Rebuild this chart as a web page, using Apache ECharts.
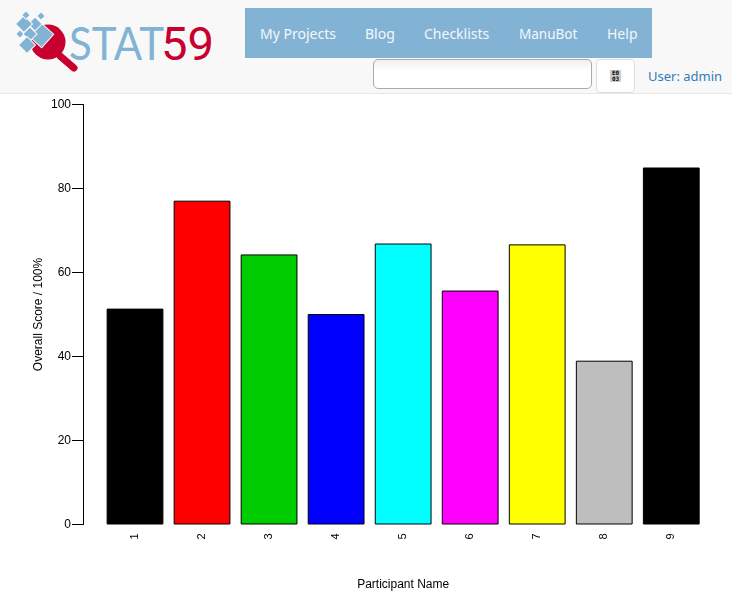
<!DOCTYPE html>
<html>
<head>
<meta charset="utf-8">
<title>Participant scores</title>
<script src="https://cdn.jsdelivr.net/npm/echarts@6/dist/echarts.min.js"></script>
<style>
  html, body { margin: 0; padding: 0; background: #fff; overflow: hidden; }
  #page { position: relative; width: 732px; height: 595px; }
  #head { position: absolute; left: 0; top: 0; width: 732px; height: 93px; background: #f8f8f8; border-bottom: 1px solid #e7e7e7; font-family: "Noto Sans", sans-serif; }
  #logo { position: absolute; left: 0; top: 0; }
  #nav { position: absolute; left: 245px; top: 8px; width: 407px; height: 50px; background: #82b3d5; }
  #nav span { position: absolute; top: 16px; font-size: 14px; line-height: 20px; color: #f4f7fa; }
  #search { position: absolute; left: 373px; top: 59px; width: 217px; height: 28px; border: 1px solid #aaa; border-radius: 5px; background: linear-gradient(#f0f0f0, #fff 40%); }
  #btn { position: absolute; left: 596px; top: 59px; width: 37px; height: 32px; border: 1px solid #ddd; border-radius: 4px; background: #fff; }
  #glyph { position: absolute; left: 13px; top: 10px; width: 11px; height: 12px; background: #ccc; color: #000; font: bold 6px/6px "DejaVu Sans Mono", monospace; text-align: center; opacity: 0.99; }
  #user { position: absolute; left: 648px; top: 66px; font-size: 13px; line-height: 20px; color: #337ab7; }
  #chart { position: absolute; left: 0; top: 0; width: 732px; height: 595px; }
</style>
</head>
<body>
<div id="page">
  <div id="chart"></div>
  <div id="head">
    <svg id="logo" width="240" height="90">
      <g fill="#c8002f">
        <circle cx="48" cy="42" r="17.5"></circle>
        <line x1="60" y1="56" x2="74" y2="68" stroke="#c8002f" stroke-width="7" stroke-linecap="round"></line>
      </g>
      <g fill="#82b3d5" stroke="#f8f8f8" stroke-width="1">
        <rect x="-9" y="-9" width="18" height="18" transform="translate(41 35) rotate(42)"></rect>
        <rect x="-5" y="-5" width="10" height="10" transform="translate(35 24) rotate(45)"></rect>
        <rect x="-6" y="-6" width="12" height="12" transform="translate(24 24) rotate(45)"></rect>
        <rect x="-3" y="-3" width="6" height="6" transform="translate(26 15) rotate(45)"></rect>
        <rect x="-3" y="-3" width="6" height="6" transform="translate(41 16) rotate(45)"></rect>
        <rect x="-3" y="-3" width="6" height="6" transform="translate(20 34) rotate(45)"></rect>
        <rect x="-5" y="-5" width="10" height="10" transform="translate(30 34) rotate(45)"></rect>
        <rect x="-6" y="-6" width="12" height="12" transform="translate(27 45) rotate(45)"></rect>
      </g>
      <text x="69" y="60" font-family="Lato" font-size="47" fill="#82b3d5" textLength="95" lengthAdjust="spacingAndGlyphs">STAT</text>
      <text x="161" y="60" font-family="Roboto" font-size="47" fill="#c8002f" textLength="53" lengthAdjust="spacingAndGlyphs">59</text>
    </svg>
    <div id="nav">
      <span style="left:15px">My Projects</span>
      <span style="left:120px">Blog</span>
      <span style="left:179px">Checklists</span>
      <span style="left:274px;font-size:13.5px">ManuBot</span>
      <span style="left:362px">Help</span>
    </div>
    <div id="search"></div>
    <div id="btn"><div id="glyph">E0<br>03</div></div>
    <div id="user">User: admin</div>
  </div>
</div>
<script>
var participants = ['1', '2', '3', '4', '5', '6', '7', '8', '9'];
var scores = [51.4, 77.1, 64.3, 50.1, 66.9, 55.7, 66.7, 39, 85];
var barColors = ['#000000', '#ff0000', '#00cd00', '#0000ff', '#00ffff', '#ff00ff', '#ffff00', '#bebebe', '#000000'];
var yTicks = [0, 20, 40, 60, 80, 100];

var myChart = echarts.init(document.getElementById('chart'));
var textFont = '"Liberation Sans", Arial, sans-serif';

myChart.setOption({
  animation: false,
  // outerBounds off, otherwise echarts 6 shrinks the grid to fit the labels
  grid: { left: 101.5, right: 27.2, top: 104.5, bottom: 70.5, outerBoundsMode: 'none' },
  xAxis: {
    type: 'category',
    data: participants,
    name: 'Participant Name',
    nameLocation: 'middle',
    nameGap: 54,
    nameTextStyle: { fontFamily: textFont, fontSize: 12, color: '#000' },
    axisLine: { show: false },
    axisTick: { show: false },
    axisLabel: { rotate: 90, margin: 9, fontFamily: textFont, fontSize: 11, color: '#000' }
  },
  yAxis: {
    type: 'value',
    min: 0,
    max: 100,
    interval: yTicks[1] - yTicks[0],
    offset: 18.5,
    name: 'Overall Score / 100%',
    nameLocation: 'middle',
    nameGap: 38,
    nameMoveOverlap: false,
    nameTextStyle: { fontFamily: textFont, fontSize: 12, color: '#000' },
    splitLine: { show: false },
    axisLine: { show: true, lineStyle: { color: '#000', width: 1 } },
    axisTick: { show: true, length: 11, lineStyle: { color: '#000', width: 1 } },
    axisLabel: { margin: 12, fontFamily: textFont, fontSize: 12, color: '#000' }
  },
  series: [{
    type: 'bar',
    barWidth: 56.8,
    data: scores.map(function (v, i) {
      return { value: v, itemStyle: { color: barColors[i], borderColor: '#000', borderWidth: 1 } };
    })
  }]
});
</script>
</body>
</html>
